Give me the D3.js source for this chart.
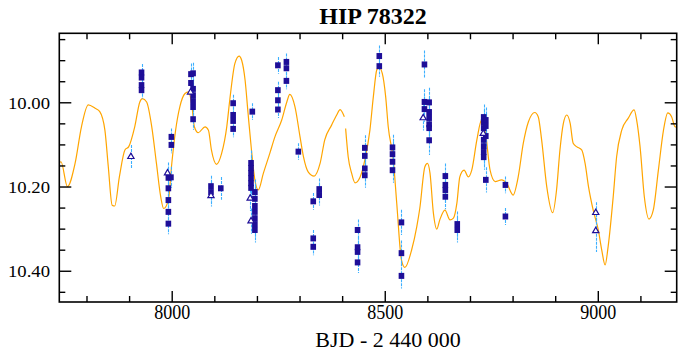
<!DOCTYPE html>
<html><head><meta charset="utf-8">
<script src="https://cdn.jsdelivr.net/npm/d3@7"></script>
<style>body{margin:0;background:#fff}</style>
</head><body><svg id="c" width="692" height="362"></svg>
<script>
// Model light curve (BJD-2440000, magnitude); null marks a gap
const modelT = [7735,7739,7754,7772,7787,7803,7819,7830,7842,7850,7859,7865,7876,7889,7898,7912,7924,7930,7940,7952,7963,7973,7980,7991,7999,8008,8018,8030,8038,8046,8052,8061,8077,8085,8092,8104,8116,8128,8135,8147,8157,8163,8171,8178,8186,8194,8202,8214,8229,8241,8257,8269,8276,8288,8300,8308,8319,8333,8347,8358,8374,8386,8394,8404,8405,8407,8413,8421,8429,8441,8452,8464,8472,8480,8485,8493,8501,8507,8519,8527,8538,8546,8562,8574,8581,8593,8599,8605,8613,8621,8628,8640,8652,8660,8668,8675,8685,8695,8703,8715,8726,8736,8746,8758,8773,8785,8800,8812,8824,8836,8851,8859,8867,8879,8893,8902,8910,8918,8926,8934,8941,8949,8961,8969,8977,8988,9000,9008,9016,9023,9035,9043,9055,9070,9084,9090,9098,9108,9119,9129,9141,9153,9163,9172,9180,9184];
const modelMag = [10.143,10.140,10.199,10.144,10.057,10.005,10.013,10.021,10.065,10.152,10.243,10.245,10.176,10.112,10.104,10.057,9.998,9.990,9.998,10.057,10.144,10.223,10.251,10.231,10.144,10.065,10.009,9.978,9.974,10.005,10.057,10.071,10.057,10.065,10.112,10.146,10.120,10.057,9.994,9.907,9.889,9.899,9.946,10.025,10.112,10.183,10.207,10.167,10.120,10.081,10.041,9.998,9.980,10.009,10.081,10.128,10.164,10.174,10.144,10.088,10.053,10.029,10.016,10.033,null,10.061,10.128,10.167,10.190,10.176,10.136,10.065,9.986,9.922,9.915,9.930,9.986,10.057,10.136,10.239,10.373,10.391,10.349,10.294,10.251,10.152,10.144,10.167,10.262,10.300,10.278,10.255,10.278,10.274,10.239,10.176,10.160,10.176,10.160,10.088,10.041,10.077,10.160,10.187,10.183,10.191,10.219,10.176,10.096,10.045,10.023,10.033,10.088,10.199,10.261,10.207,10.112,10.049,10.029,10.049,10.096,10.104,10.112,10.144,10.199,10.255,10.302,10.349,10.385,10.342,10.223,10.128,10.065,10.037,10.017,10.041,10.104,10.223,10.276,10.255,10.160,10.065,10.024,10.033,10.057,10.058];

// Observations, filled squares
const sqT   = [7928,7928,7928,7928, 7998,7998, 7991,7991,7991,7991,7991, 7997, 8044,8044, 8049,8049,8049,8049,8049,8049, 8091,8091, 8114, 8143,8143,8143,8143, 8188, 8185,8185,8185,8185,8185,8185, 8194,8194,8194,8194,8194,8194,8194, 8248,8248,8248,8248, 8268,8268,8268, 8296, 8331,8331,8331, 8345,8345, 8435,8435,8435,8435, 8452,8452,8452,8452, 8486,8486, 8517,8517,8517,8517, 8538,8538,8538, 8592,8592,8592, 8603,8603,8603,8603,8603,8603, 8641,8641,8641,8641, 8669,8669, 8731,8731,8731,8731,8731,8731,8731, 8736,8736,8736,8736, 8782,8782];
const sqMag = [9.928,9.940,9.958,9.970, 10.081,10.100, 10.178,10.203,10.231,10.259,10.287, 10.177, 9.932,9.953, 9.930,9.967,9.982,9.996,10.010,10.039, 10.198,10.212, 10.203, 10.001,10.029,10.043,10.062, 10.021, 10.143,10.155,10.167,10.179,10.191,10.202, 10.212,10.228,10.245,10.259,10.274,10.288,10.302, 9.911,9.970,9.994,10.016, 9.903,9.918,9.948, 10.116, 10.234,10.322,10.342, 10.205,10.219, 10.302,10.343,10.354,10.379, 10.107,10.126,10.156,10.172, 9.889,9.913, 10.106,10.122,10.140,10.160, 10.284,10.357,10.411, 9.909,9.998,10.015, 9.999,10.022,10.036,10.051,10.060,10.089, 10.174,10.195,10.207,10.223, 10.288,10.302, 10.034,10.046,10.060,10.088,10.103,10.117,10.129, 10.041,10.055,10.079,10.183, 10.195,10.270];
const sqErr = [0.02,0.02,0.02,0.02, 0.02,0.02, 0.025,0.025,0.025,0.025,0.025, 0.025, 0.025,0.025, 0.025,0.025,0.025,0.025,0.025,0.025, 0.025,0.025, 0.027, 0.02,0.02,0.02,0.02, 0.02, 0.03,0.03,0.03,0.03,0.03,0.03, 0.03,0.03,0.03,0.03,0.03,0.03,0.03, 0.02,0.02,0.02,0.02, 0.02,0.02,0.02, 0.02, 0.02,0.02,0.02, 0.025,0.025, 0.025,0.025,0.025,0.025, 0.03,0.03,0.03,0.03, 0.025,0.025, 0.03,0.03,0.03,0.03, 0.03,0.03,0.03, 0.033,0.03,0.03, 0.035,0.035,0.035,0.035,0.035,0.035, 0.03,0.03,0.03,0.03, 0.03,0.03, 0.03,0.03,0.03,0.03,0.03,0.03,0.03, 0.03,0.03,0.03,0.03, 0.02,0.02];

// Observations, open triangles
const triT   = [7903, 7989, 8043, 8091, 8183, 8185, 8589, 8730, 8994, 8994];
const triMag = [10.128, 10.167, 9.975, 10.221, 10.227, 10.281, 10.036, 10.073, 10.261, 10.304];
const triErr = [0.028, 0.025, 0.025, 0.025, 0.03, 0.03, 0.03, 0.03, 0.025, 0.05];

const xMajorTicks = [8000, 8500, 9000];
const xMinorTicks = [7800,7900,8100,8200,8300,8400,8600,8700,8800,8900,9100];
const yMajorTicks = [10.00, 10.20, 10.40];
const yMinorTicks = [9.85,9.90,9.95,10.05,10.10,10.15,10.25,10.30,10.35,10.45];

const title = "HIP 78322";
const xLabel = "BJD - 2 440 000";

const svg = d3.select("#c");
const L = 59.3, R = 676.7, T = 33.3, B = 302;
const x = d3.scaleLinear().domain([7735, 9184]).range([L, R]);
const y = d3.scaleLinear().domain([9.835, 10.473]).range([T, B]);

const serif = "Liberation Serif, Times New Roman, serif";

// curve
const model = modelT.map((t, i) => ({t, m: modelMag[i]}));
svg.append("path").datum(model)
  .attr("fill", "none").attr("stroke", "#ffa500").attr("stroke-width", 1.2)
  .attr("d", d3.line().defined(d => d.m != null).x(d => x(d.t)).y(d => y(d.m)).curve(d3.curveMonotoneX));

const sq = sqT.map((t, i) => ({t, m: sqMag[i], e: sqErr[i]}));
const tri = triT.map((t, i) => ({t, m: triMag[i], e: triErr[i]}));

// error bars
const eb = svg.append("g").attr("stroke", "#3cb0ff").attr("stroke-width", 1.1).attr("stroke-dasharray", "3,1");
eb.selectAll("line").data(sq.concat(tri)).join("line")
  .attr("x1", d => Math.round(x(d.t)) + 0.5).attr("x2", d => Math.round(x(d.t)) + 0.5)
  .attr("y1", d => y(d.m - d.e)).attr("y2", d => y(d.m + d.e));

// squares
svg.append("g").selectAll("rect").data(sq).join("rect")
  .attr("x", d => x(d.t) - 2.8).attr("y", d => y(d.m) - 3)
  .attr("width", 5.6).attr("height", 6).attr("fill", "#1e0e98");

// triangles
const sym = d3.symbol().type(d3.symbolTriangle).size(17);
svg.append("g").selectAll("path").data(tri).join("path")
  .attr("transform", d => `translate(${x(d.t)},${y(d.m)})`)
  .attr("d", sym).attr("fill", "#fff").attr("stroke", "#1e0e98").attr("stroke-width", 1.2);

// frame
svg.append("rect").attr("x", L).attr("y", T).attr("width", R - L).attr("height", B - T)
  .attr("fill", "none").attr("stroke", "#000").attr("stroke-width", 1.6);

// ticks
const tk = svg.append("g").attr("stroke", "#000").attr("stroke-width", 1.4);
function xt(vals, len) {
  vals.forEach(v => {
    tk.append("line").attr("x1", x(v)).attr("x2", x(v)).attr("y1", B).attr("y2", B - len);
    tk.append("line").attr("x1", x(v)).attr("x2", x(v)).attr("y1", T).attr("y2", T + len);
  });
}
function yt(vals, len) {
  vals.forEach(v => {
    tk.append("line").attr("x1", L).attr("x2", L + len).attr("y1", y(v)).attr("y2", y(v));
    tk.append("line").attr("x1", R).attr("x2", R - len).attr("y1", y(v)).attr("y2", y(v));
  });
}
xt(xMajorTicks, 11); xt(xMinorTicks, 6);
yt(yMajorTicks, 12); yt(yMinorTicks, 6);

// tick labels
svg.append("g").selectAll("text").data(xMajorTicks).join("text")
  .attr("x", d => x(d)).attr("y", 319).attr("text-anchor", "middle")
  .attr("font-family", serif).attr("font-size", 21)
  .attr("textLength", 36).attr("lengthAdjust", "spacingAndGlyphs")
  .text(d => d3.format("d")(d));
svg.append("g").selectAll("text").data(yMajorTicks).join("text")
  .attr("x", 50).attr("y", d => y(d) + 6).attr("text-anchor", "end")
  .attr("font-family", serif).attr("font-size", 17)
  .attr("textLength", 42).attr("lengthAdjust", "spacingAndGlyphs")
  .text(d => d3.format(".2f")(d));

// title & axis label
svg.append("text").attr("x", 373).attr("y", 24).attr("text-anchor", "middle")
  .attr("font-family", serif).attr("font-weight", "bold").attr("font-size", 24).text(title);
svg.append("text").attr("x", 388).attr("y", 347).attr("text-anchor", "middle")
  .attr("font-family", serif).attr("font-size", 22).text(xLabel);
</script></body></html>
